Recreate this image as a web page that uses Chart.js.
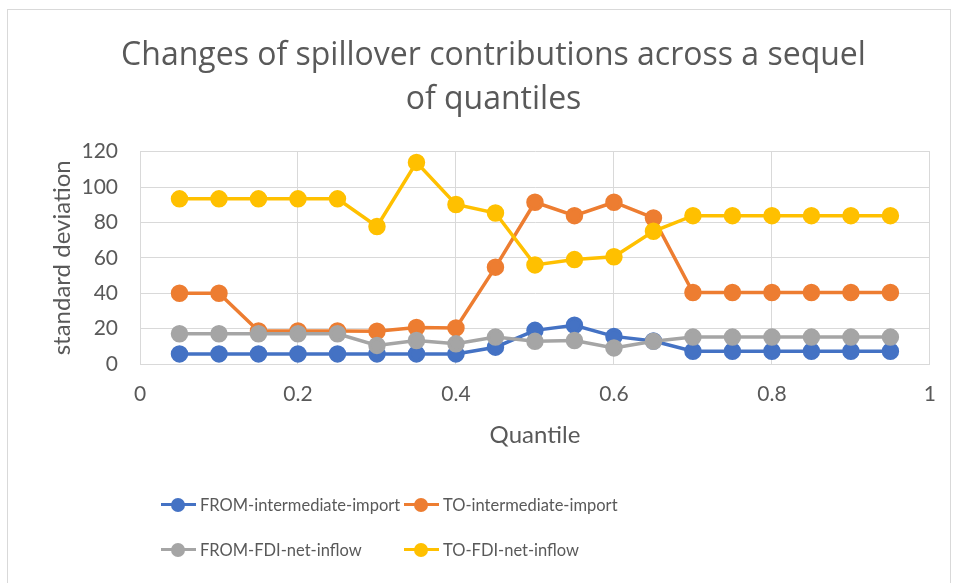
<!DOCTYPE html>
<html lang="en">
<head>
    <meta charset="UTF-8">
    <title>Changes of spillover contributions across a sequel of quantiles</title>
    <script src="https://cdn.jsdelivr.net/npm/chart.js"></script>
    <style>
        body { margin: 0; background: #fff; font-family: Lato, sans-serif; }
        #wrap { position: relative; width: 954px; height: 583px; }
        #frame {
            position: absolute; left: 7px; top: 9px; width: 942px; height: 580px;
            border: 1px solid #d9d9d9; border-bottom: none;
        }
        .legend-item {
            position: absolute; height: 20px; display: flex; align-items: center;
            font-family: Lato, sans-serif; font-size: 16.5px; color: #595959; white-space: nowrap;
        }
        .legend-mark { position: relative; width: 35px; height: 20px; margin-right: 4px; }
        .legend-mark .ln { position: absolute; left: 0; top: 8px; width: 35px; height: 3px; }
        .legend-mark .dot { position: absolute; left: 10px; top: 3px; width: 14px; height: 14px; border-radius: 50%; }
    </style>
</head>
<body>
<div id="wrap">
    <div id="frame"></div>
    <canvas id="chart"></canvas>
    <div id="legend"></div>
</div>
<script>
    // quantiles on the x axis
    const quantiles = [0.05, 0.1, 0.15, 0.2, 0.25, 0.3, 0.35, 0.4, 0.45, 0.5,
                       0.55, 0.6, 0.65, 0.7, 0.75, 0.8, 0.85, 0.9, 0.95];

    // values
    const fromIntermediate = [5.7, 5.7, 5.7, 5.7, 5.7, 5.7, 5.7, 5.7, 9.5, 19,
                              21.9, 15.6, 13, 7.2, 7.2, 7.2, 7.2, 7.2, 7.2];
    const toIntermediate = [40, 40, 18.7, 18.7, 18.7, 18.5, 20.6, 20.4, 54.7, 91.4,
                            83.8, 91.4, 82.5, 40.4, 40.4, 40.4, 40.4, 40.4, 40.4];
    const fromFdi = [17.1, 17.1, 17.1, 17.1, 17.1, 10.5, 13.3, 11.4, 15.2, 12.8,
                     13.3, 9.1, 12.8, 15.2, 15.2, 15.2, 15.2, 15.2, 15.2];
    const toFdi = [93.3, 93.3, 93.3, 93.3, 93.3, 77.7, 113.9, 90.1, 85.3, 56,
                   59, 60.6, 75, 83.8, 83.8, 83.8, 83.8, 83.8, 83.8];

    const seriesNames = ['FROM-intermediate-import', 'TO-intermediate-import',
                         'FROM-FDI-net-inflow', 'TO-FDI-net-inflow'];
    const seriesColors = ['#4472C4', '#ED7D31', '#A5A5A5', '#FFC000'];
    const seriesValues = [fromIntermediate, toIntermediate, fromFdi, toFdi];

    const textColor = '#595959';
    const gridColor = '#d9d9d9';

    const datasets = seriesValues.map((vals, i) => ({
        label: seriesNames[i],
        data: quantiles.map((q, j) => ({ x: q, y: vals[j] })),
        borderColor: seriesColors[i],
        backgroundColor: seriesColors[i],
        borderWidth: 3.5,
        pointRadius: 7,
        pointHoverRadius: 7,
        showLine: true,
        order: 3 - i
    }));

    new Chart(document.getElementById('chart'), {
        type: 'scatter',
        data: { datasets },
        options: {
            responsive: true,
            maintainAspectRatio: false,
            animation: false,
            layout: { padding: { left: 48, right: 15, top: 0, bottom: 129 } },
            plugins: {
                legend: { display: false },
                tooltip: { enabled: false },
                title: {
                    display: true,
                    text: ['Changes of spillover contributions across a sequel', 'of quantiles'],
                    color: textColor,
                    font: { family: 'Open Sans', size: 32, weight: 'normal', lineHeight: 1.4 },
                    padding: { top: 33, bottom: 29 }
                }
            },
            scales: {
                x: {
                    type: 'linear',
                    min: 0, max: 1,
                    ticks: { stepSize: 0.2, color: textColor, padding: 18,
                             font: { family: 'Lato', size: 21 },
                             callback: v => String(Number(v.toFixed(1))) },
                    grid: { color: gridColor, drawTicks: false },
                    border: { color: gridColor },
                    title: { display: true, text: 'Quantile', color: textColor,
                             font: { family: 'Lato', size: 24 }, padding: { top: 8 } },
                    afterFit: s => { s.height = 90; }
                },
                y: {
                    min: 0, max: 120,
                    ticks: { stepSize: 20, color: textColor, padding: 22,
                             font: { family: 'Lato', size: 21 } },
                    grid: { color: gridColor, drawTicks: false },
                    border: { color: gridColor },
                    title: { display: true, text: 'standard deviation', color: textColor,
                             font: { family: 'Lato', size: 24 }, padding: { top: 0, bottom: 0 } },
                    afterFit: s => { s.width = 92; }
                }
            }
        }
    });

    // legend laid out as in the reference: two rows, two columns
    const legendPos = [[161, 495], [404, 495], [161, 540], [404, 540]];
    const legend = document.getElementById('legend');
    seriesNames.forEach((name, i) => {
        const item = document.createElement('div');
        item.className = 'legend-item';
        item.style.left = legendPos[i][0] + 'px';
        item.style.top = legendPos[i][1] + 'px';
        item.innerHTML = '<span class="legend-mark"><span class="ln" style="background:' + seriesColors[i] +
            '"></span><span class="dot" style="background:' + seriesColors[i] + '"></span></span>' + name;
        legend.appendChild(item);
    });
</script>
</body>
</html>
